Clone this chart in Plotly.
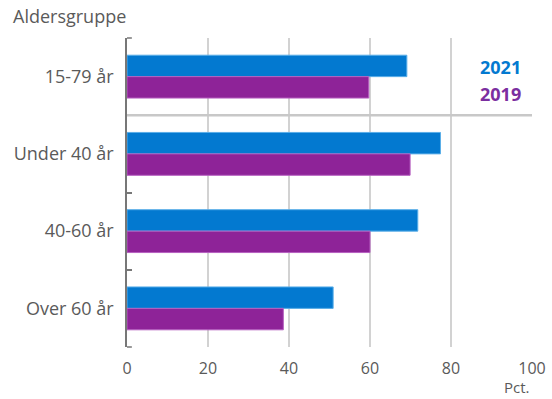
import plotly.graph_objects as go

# Andel i pct. efter aldersgruppe
groups = ["15-79 år", "Under 40 år", "40-60 år", "Over 60 år"]
pct_2021 = [69.1, 77.4, 71.8, 50.9]
pct_2019 = [59.7, 69.9, 60.0, 38.6]
x_ticks = [0, 20, 40, 60, 80, 100]

BLUE = "#0379d0"
PURPLE = "#8e2398"
GREY_TXT = "#5a5a5a"
AXIS = "#777777"
FONT = "Open Sans"

fig = go.Figure()
fig.add_trace(go.Bar(y=groups, x=pct_2021, orientation="h", name="2021",
                     marker=dict(color=BLUE, line=dict(color="#5aaee8", width=1))))
fig.add_trace(go.Bar(y=groups, x=pct_2019, orientation="h", name="2019",
                     marker=dict(color=PURPLE, line=dict(color="#b65fc0", width=1))))

fig.update_layout(
    width=552, height=399,
    margin=dict(l=127, r=20, t=38, b=52, autoexpand=False),
    plot_bgcolor="white", paper_bgcolor="white",
    barmode="group", bargap=0.445, bargroupgap=0,
    showlegend=False,
    font=dict(family=FONT, size=16, color=GREY_TXT),
)
fig.update_xaxes(
    range=[0, 100], tickvals=x_ticks, showgrid=True, gridcolor="#d2d2d2", gridwidth=1.5,
    zeroline=False, showline=False, ticks="", automargin=False,
    ticklabelstandoff=10, tickfont=dict(size=16, color=GREY_TXT),
)
fig.update_yaxes(
    autorange="reversed", showgrid=False, showline=True, linecolor=AXIS, linewidth=1.5,
    ticks="inside", tickson="boundaries", ticklen=5, tickcolor=AXIS, tickwidth=1.5,
    automargin=False, ticklabelstandoff=8, tickfont=dict(size=18, color=GREY_TXT),
)

# Skillelinje mellem totalen og aldersgrupperne
fig.add_shape(type="line", xref="paper", yref="y", x0=0, x1=1, y0=0.5, y1=0.5,
              line=dict(color="#c8c8c8", width=2.5))
# Små afslutningsstreger i top og bund af kategoriaksen
for yy in (0, 1):
    fig.add_shape(type="line", xref="paper", yref="paper", x0=0, x1=0.012, y0=yy, y1=yy,
                  line=dict(color=AXIS, width=1.5))

fig.add_annotation(text="Aldersgruppe", xref="paper", yref="paper", x=-0.287, y=1.025,
                   xanchor="left", yanchor="bottom", showarrow=False,
                   font=dict(size=18, color=GREY_TXT))
fig.add_annotation(text="Pct.", xref="paper", yref="paper", x=1.0, y=-0.131,
                   xanchor="right", yanchor="middle", showarrow=False,
                   font=dict(size=15, color=GREY_TXT))
fig.add_annotation(text="<b>2021</b>", xref="paper", yref="paper", x=0.978, y=0.905,
                   xanchor="right", yanchor="middle", showarrow=False,
                   font=dict(size=18, color=BLUE))
fig.add_annotation(text="<b>2019</b>", xref="paper", yref="paper", x=0.978, y=0.818,
                   xanchor="right", yanchor="middle", showarrow=False,
                   font=dict(size=18, color="#7b2ea0"))

fig.write_html("out.html")
